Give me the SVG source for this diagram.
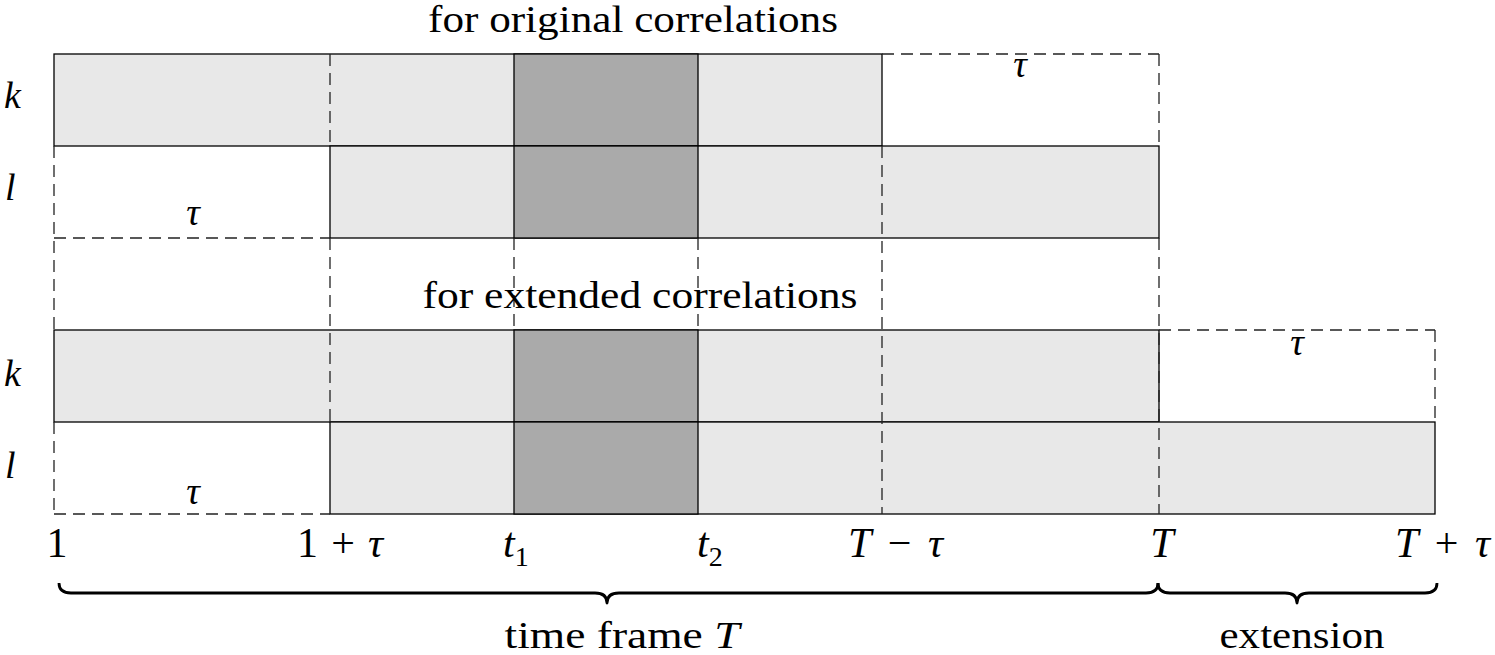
<svg xmlns="http://www.w3.org/2000/svg" width="1495" height="655" viewBox="0 0 1495 655">
<style>
.lt{fill:#e8e8e8;stroke:#000;stroke-width:1.3}
.dk{fill:#aaaaaa;stroke:#000;stroke-width:1.3}
.ds{fill:none;stroke:#222;stroke-width:1.3;stroke-dasharray:12 7}
.br{fill:none;stroke:#000;stroke-width:2.8;stroke-linejoin:round}
text{font-family:'Liberation Serif','Times New Roman',Tinos,'DejaVu Serif',serif;font-size:38px;fill:#000}
.m{font-style:italic}
.ax{font-size:42px}
.sub{font-size:28px}
</style>
<g id="fills">
<rect class="lt" x="54" y="54" width="828" height="92"/>
<rect class="dk" x="514" y="54" width="184" height="92"/>
<rect class="lt" x="330" y="146" width="829" height="92"/>
<rect class="dk" x="514" y="146" width="184" height="92"/>
<rect class="lt" x="54" y="330" width="1105" height="92"/>
<rect class="dk" x="514" y="330" width="184" height="92"/>
<rect class="lt" x="330" y="422" width="1105" height="92"/>
<rect class="dk" x="514" y="422" width="184" height="92"/>
</g>
<g id="connectors">
<line class="ds" x1="54" y1="146" x2="54" y2="330"/>
<line class="ds" x1="54" y1="422" x2="54" y2="514"/>
<line class="ds" x1="330" y1="54" x2="330" y2="146"/>
<line class="ds" x1="330" y1="238" x2="330" y2="422"/>
<line class="ds" x1="514" y1="238" x2="514" y2="330"/>
<line class="ds" x1="698" y1="238" x2="698" y2="330"/>
<line class="ds" x1="882" y1="146" x2="882" y2="514"/>
<line class="ds" x1="1159" y1="54" x2="1159" y2="146"/>
<line class="ds" x1="1159" y1="238" x2="1159" y2="514"/>
<line class="ds" x1="882" y1="54" x2="1159" y2="54"/>
<line class="ds" x1="54" y1="238" x2="330" y2="238"/>
<line class="ds" x1="1159" y1="330" x2="1435" y2="330"/>
<line class="ds" x1="1435" y1="330" x2="1435" y2="422"/>
<line class="ds" x1="54" y1="514" x2="330" y2="514"/>
<path class="br" d="M59,583 Q59,593 71,593 L595,593 Q607,593 607,603 Q607,593 619,593 L1146,593 Q1158,593 1158,583"/>
<path class="br" d="M1158,583 Q1158,593 1170,593 L1285,593 Q1297,593 1297,603 Q1297,593 1309,593 L1425,593 Q1437,593 1437,583"/>
</g>
<g id="labels">
<text x="633" y="32" font-size="35" text-anchor="middle" textLength="410" lengthAdjust="spacingAndGlyphs">for original correlations</text>
<text x="640" y="308" font-size="35" text-anchor="middle" textLength="435" lengthAdjust="spacingAndGlyphs">for extended correlations</text>
<text class="m" x="4" y="108" font-size="40">k</text>
<text class="m" x="5" y="200" font-size="40">l</text>
<text class="m" x="4" y="386" font-size="40">k</text>
<text class="m" x="5" y="478" font-size="40">l</text>
<text class="m" x="1020" y="77" text-anchor="middle">τ</text>
<text class="m" x="193" y="225" text-anchor="middle">τ</text>
<text class="m" x="1297" y="355" text-anchor="middle">τ</text>
<text class="m" x="193" y="504" text-anchor="middle">τ</text>
<text class="ax" x="57" y="557" text-anchor="middle">1</text>
<text class="ax" x="297" y="557" textLength="86">1 + <tspan class="m">τ</tspan></text>
<text class="ax m" x="503" y="557">t<tspan class="sub" font-style="normal" dy="9">1</tspan></text>
<text class="ax m" x="697" y="557">t<tspan class="sub" font-style="normal" dy="9">2</tspan></text>
<text class="ax" x="848" y="557" textLength="95"><tspan class="m">T</tspan> − <tspan class="m">τ</tspan></text>
<text class="ax m" x="1162" y="557" text-anchor="middle">T</text>
<text class="ax" x="1395" y="557" textLength="95"><tspan class="m">T</tspan> + <tspan class="m">τ</tspan></text>
<text x="622" y="648" text-anchor="middle" textLength="235" lengthAdjust="spacingAndGlyphs">time frame <tspan class="m">T</tspan></text>
<text x="1302" y="648" text-anchor="middle" textLength="165" lengthAdjust="spacingAndGlyphs">extension</text>
</g>
</svg>
